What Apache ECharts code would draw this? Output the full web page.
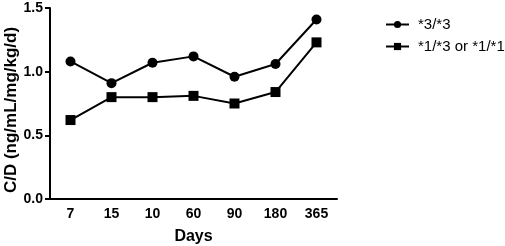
<!DOCTYPE html>
<html>
<head>
<meta charset="utf-8">
<script src="https://cdn.jsdelivr.net/npm/echarts@6/dist/echarts.min.js"></script>
<style>
  html, body { margin: 0; padding: 0; background: #fff; }
  #main { width: 505px; height: 246px; }
</style>
</head>
<body>
<div id="main"></div>
<script>
// C/D ratio by day, two genotype groups
var days = ['7', '15', '10', '60', '90', '180', '365'];
var homo33 = [1.08, 0.91, 1.07, 1.12, 0.96, 1.06, 1.41];
var other = [0.62, 0.80, 0.80, 0.81, 0.75, 0.84, 1.23];

var myChart = echarts.init(document.getElementById('main'));
var font = 'Liberation Sans, Arial, sans-serif';
var option = {
    animation: false,
    grid: { left: 50, right: 168, top: 8, bottom: 47, outerBoundsMode: 'none' },
    legend: {
        orient: 'vertical',
        left: 380,
        top: 12,
        itemWidth: 23,
        itemHeight: 9,
        itemGap: 7,
        textStyle: { color: '#000', fontSize: 15, lineHeight: 15, fontFamily: font, padding: [0, 0, 0, 4] },
        data: ['*3/*3', '*1/*3 or *1/*1']
    },
    xAxis: {
        type: 'category',
        data: days,
        name: 'Days',
        nameLocation: 'middle',
        nameGap: 30,
        nameMoveOverlap: false,
        nameTextStyle: { color: '#000', fontSize: 16, fontWeight: 'bold', fontFamily: font },
        axisLine: { lineStyle: { color: '#000', width: 2 } },
        axisTick: { alignWithLabel: true, length: 5, lineStyle: { color: '#000', width: 2 } },
        axisLabel: { color: '#000', fontSize: 14, fontWeight: 'bold', fontFamily: font, margin: 8 }
    },
    yAxis: {
        type: 'value',
        min: 0,
        max: 1.5,
        interval: 0.5,
        name: 'C/D (ng/mL/mg/kg/d)',
        nameLocation: 'middle',
        nameGap: 30,
        nameMoveOverlap: false,
        nameTextStyle: {
            color: '#000', fontSize: 17, fontWeight: 'bold', fontFamily: font,
            padding: [0, 13, 0, 0]
        },
        axisLine: { show: true, lineStyle: { color: '#000', width: 2 } },
        axisTick: { show: true, length: 5, lineStyle: { color: '#000', width: 2 } },
        splitLine: { show: false },
        axisLabel: {
            color: '#000', fontSize: 14, fontWeight: 'bold', fontFamily: font, margin: 7,
            formatter: function (v) { return v.toFixed(1); }
        }
    },
    series: [
        {
            name: '*3/*3',
            type: 'line',
            data: homo33,
            symbol: 'circle',
            symbolSize: 10,
            itemStyle: { color: '#000' },
            lineStyle: { color: '#000', width: 2 }
        },
        {
            name: '*1/*3 or *1/*1',
            type: 'line',
            data: other,
            symbol: 'rect',
            symbolSize: 10,
            itemStyle: { color: '#000' },
            lineStyle: { color: '#000', width: 2 }
        }
    ]
};
myChart.setOption(option);
</script>
</body>
</html>
